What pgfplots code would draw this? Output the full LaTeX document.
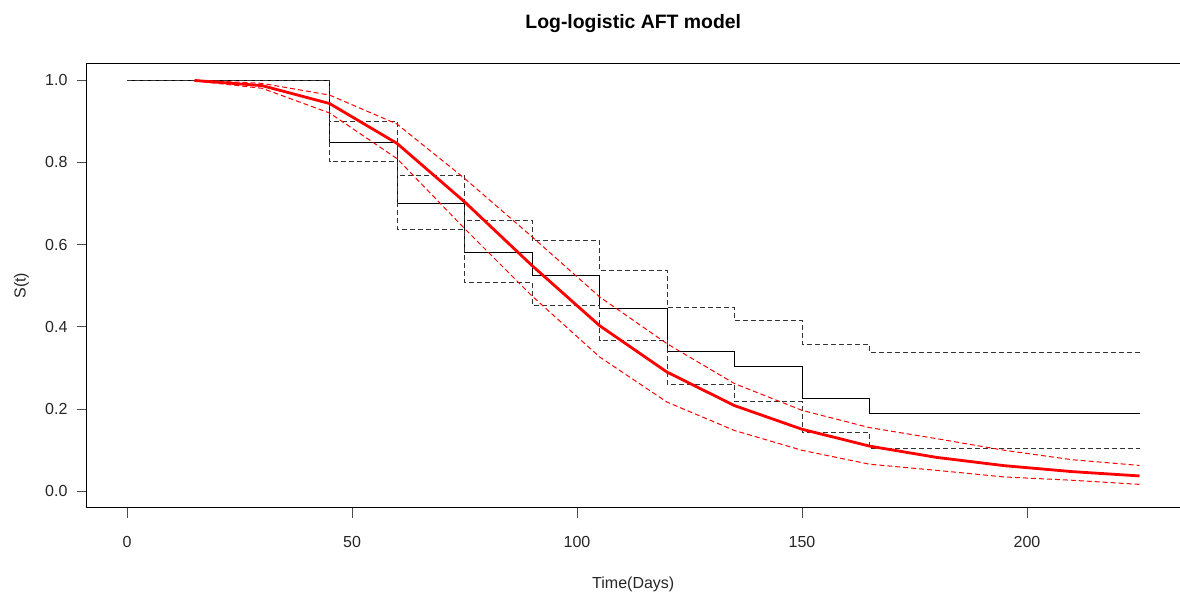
\documentclass[border=0pt]{standalone}
\usepackage{fontspec}
\setmainfont{Liberation Sans}
\usepackage{pgfplots}
\pgfplotsset{compat=1.18}

% 1 px of the reference = 0.5pt
\pgfplotsset{
    rdash/.style={dash pattern=on 2.5pt off 1.5pt},
}

\begin{document}
\begin{tikzpicture}
\useasboundingbox (-43.25pt,-45.3pt) rectangle (546.5pt,253.8pt);
\begin{axis}[
    scale only axis,
    width=546.5pt, height=222pt,
    xmin=-9, xmax=234, ymin=-0.04, ymax=1.04,
    axis line style={black, line width=0.5pt},
    xtick={0,50,100,150,200},
    ytick={0,0.2,0.4,0.6,0.8,1.0},
    xtick pos=bottom, ytick pos=left,
    tick align=outside,
    major tick length=5pt,
    tick style={black!70, line width=0.5pt},
    /pgf/number format/assume math mode=true,
    ticklabel style={font=\fontsize{8}{9}\selectfont, text=black!85},
    xticklabel style={anchor=center, yshift=-12pt},
    yticklabel style={anchor=east, xshift=-1pt,
        /pgf/number format/fixed, /pgf/number format/fixed zerofill,
        /pgf/number format/precision=1},
    title={\bfseries Log-logistic AFT model},
    title style={at={(axis description cs:0.5,1)}, anchor=center, yshift=13.8pt,
        font=\fontsize{9.7}{11}\selectfont},
    xlabel={Time(Days)},
    xlabel style={at={(axis description cs:0.5,0)}, anchor=center, yshift=-38.3pt,
        font=\fontsize{8}{9}\selectfont, text=black!85},
    ylabel={S(t)},
    ylabel style={at={(axis description cs:0,0.5)}, anchor=center, yshift=32.5pt,
        font=\fontsize{8}{9}\selectfont, text=black!85},
    clip=false,
]
% Kaplan-Meier estimate
\addplot[black, line width=0.5pt, const plot] coordinates {
    (0,1.0) (45,0.847) (60,0.700) (75,0.581) (90,0.525) (105,0.4445)
    (120,0.339) (135,0.3025) (150,0.226) (165,0.190) (225,0.190)
};
% upper confidence limit
\addplot[black!80, line width=0.5pt, rdash, const plot] coordinates {
    (0,1.0) (45,0.899) (60,0.769) (75,0.659) (90,0.611) (105,0.538)
    (120,0.447) (135,0.4145) (150,0.358) (165,0.3366) (225,0.3366)
};
% lower confidence limit
\addplot[black!80, line width=0.5pt, rdash, const plot] coordinates {
    (0,1.0) (45,0.801) (60,0.637) (75,0.509) (90,0.4526) (105,0.3666)
    (120,0.2595) (135,0.218) (150,0.144) (165,0.105) (225,0.105)
};
% log-logistic fit
\addplot[red, line width=1.4pt] coordinates {
    (15,0.999) (30,0.9865) (45,0.943) (60,0.846) (75,0.704) (90,0.549)
    (105,0.403) (120,0.290) (135,0.2085) (150,0.151) (165,0.110)
    (180,0.0824) (195,0.0624) (210,0.048) (225,0.0375)
};
\addplot[red, line width=0.5pt, rdash] coordinates {
    (15,1.0) (30,0.992) (45,0.9635) (60,0.893) (75,0.761) (90,0.619)
    (105,0.473) (120,0.359) (135,0.262) (150,0.197) (165,0.155)
    (180,0.128) (195,0.0998) (210,0.077) (225,0.063)
};
\addplot[red, line width=0.5pt, rdash] coordinates {
    (15,0.998) (30,0.980) (45,0.920) (60,0.809) (75,0.639) (90,0.475)
    (105,0.327) (120,0.217) (135,0.148) (150,0.0998) (165,0.066)
    (180,0.051) (195,0.035) (210,0.027) (225,0.017)
};
\end{axis}
\end{tikzpicture}
\end{document}
